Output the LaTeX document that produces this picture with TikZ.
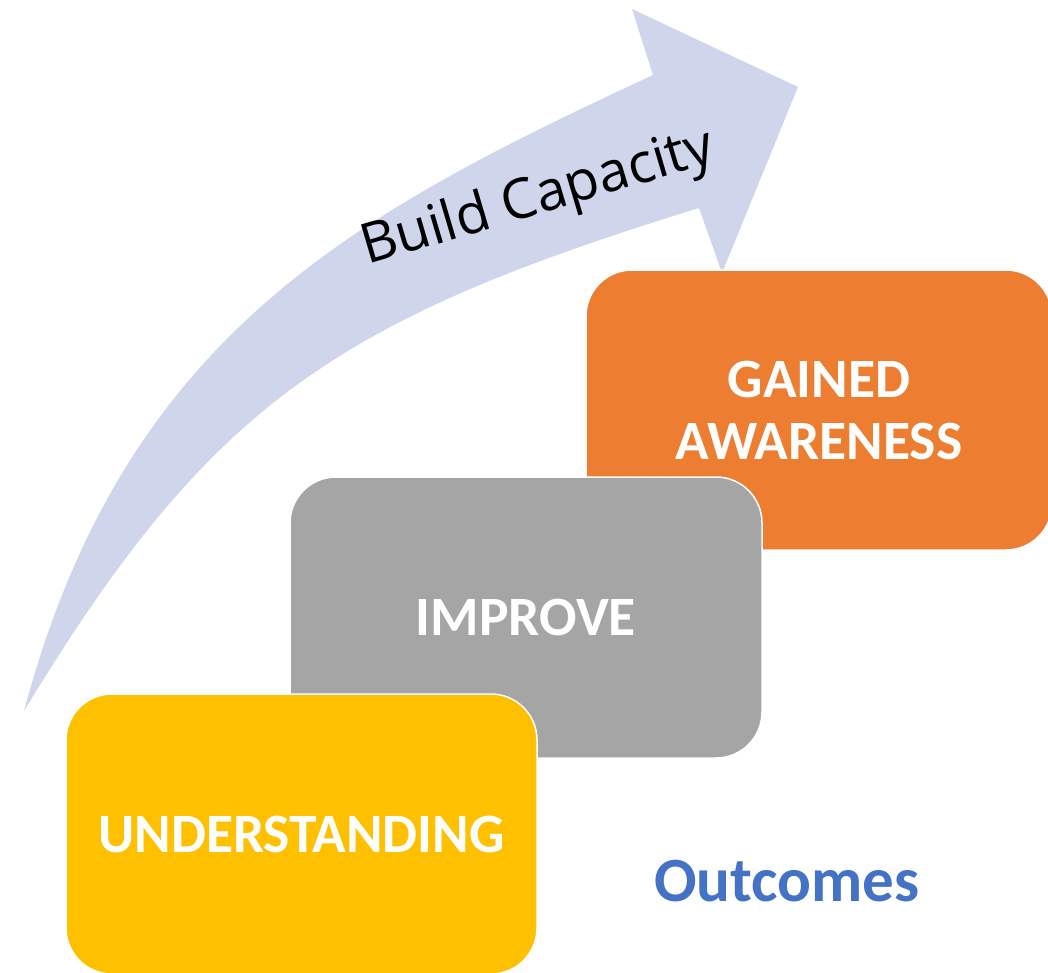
\documentclass[tikz,border=0pt]{standalone}
\usepackage{fontspec}
\setmainfont{Carlito}
\newfontfamily\opensans{Open Sans}
\definecolor{arrowc}{HTML}{CFD5EA}
\definecolor{orng}{HTML}{ED7D31}
\definecolor{gry}{HTML}{A5A5A5}
\definecolor{yel}{HTML}{FFC000}
\definecolor{blu}{HTML}{4472C4}
\begin{document}
\begin{tikzpicture}[x=1pt,y=-1pt,
  box/.style={draw=white, line width=1.5pt, rounded corners=46pt, text=white,
    font=\fontsize{55.5}{62}\selectfont\bfseries, align=center, inner sep=0pt}]
\clip (0,0) rectangle (1048,972);
% curved arrow
\fill[arrowc] (24,711) .. controls (124.6,334.3) and (354,214) .. (653,75)
  -- (632,9) -- (798,87) -- (722,273) -- (699,208)
  .. controls (335.7,320.1) and (210.5,403.2) .. cycle;
\node[rotate=16.5, anchor=base west, inner sep=0pt, font=\opensans\fontsize{55.5}{62}\selectfont] (bc) at (367,265) {Build Capacity};
% boxes
\node[box, fill=orng, minimum width=466pt, minimum height=280pt] (gained) at (819,410) {GAINED\\AWARENESS};
\node[box, fill=gry, minimum width=472pt, minimum height=281pt] (improve) at (526,617.5) {IMPROVE};
\node[box, fill=yel, minimum width=471pt, minimum height=280pt] (under) at (301.5,834) {UNDERSTANDING};
\node[text=blu, font=\fontsize{63}{70}\selectfont\bfseries, anchor=base, inner sep=0pt] (out) at (787,901) {Outcomes};
\end{tikzpicture}
\end{document}
